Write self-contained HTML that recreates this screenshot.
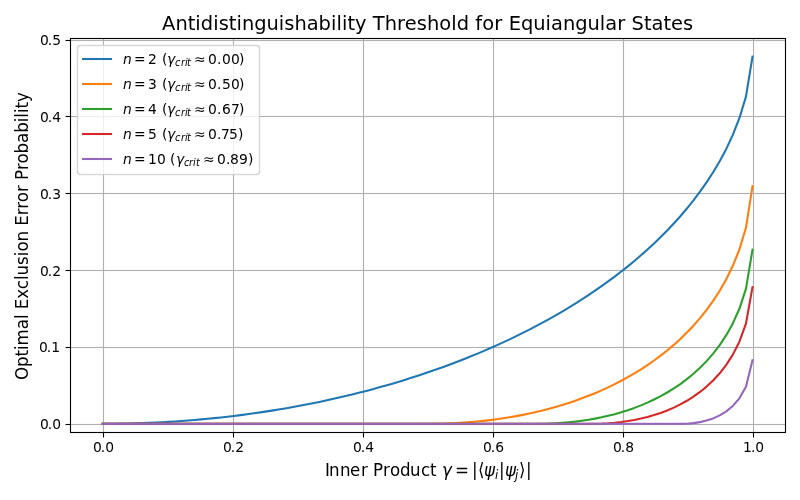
<!DOCTYPE html>
<html lang="en"><head><meta charset="utf-8">
<title>Antidistinguishability Threshold for Equiangular States</title>
<style>html,body{margin:0;padding:0;background:#fff;overflow:hidden}svg{display:block}.txt{will-change:transform}text{font-family:"DejaVu Sans","Liberation Sans",sans-serif;fill:#000;white-space:pre}.it{font-style:oblique}.t10{font-size:13.889px}.t12{font-size:16.667px}.t14{font-size:19.444px}.s7{font-size:9.722px;font-style:oblique}.s84{font-size:11.667px;font-style:oblique}.grid rect{fill:#b0b0b0}.tick line{stroke:#000;stroke-width:1.111}.curve{fill:none;stroke-width:2.083;stroke-linejoin:round;stroke-linecap:butt}</style></head><body>
<svg width="800" height="500" viewBox="0 0 800 500">
<rect x="0" y="0" width="800" height="500" fill="#fff"/>
<g class="grid">
<rect x="102.944" y="38.5" width="1.111" height="394.0"/>
<rect x="232.944" y="38.5" width="1.111" height="394.0"/>
<rect x="362.944" y="38.5" width="1.111" height="394.0"/>
<rect x="492.944" y="38.5" width="1.111" height="394.0"/>
<rect x="622.944" y="38.5" width="1.111" height="394.0"/>
<rect x="752.944" y="38.5" width="1.111" height="394.0"/>
<rect x="70.5" y="423.944" width="715.0" height="1.111"/>
<rect x="70.5" y="346.944" width="715.0" height="1.111"/>
<rect x="70.5" y="269.944" width="715.0" height="1.111"/>
<rect x="70.5" y="192.944" width="715.0" height="1.111"/>
<rect x="70.5" y="115.944" width="715.0" height="1.111"/>
<rect x="70.5" y="39.944" width="715.0" height="1.111"/>
</g>
<g class="tick">
<line x1="103.5" y1="432.0" x2="103.5" y2="437.5"/>
<line x1="233.5" y1="432.0" x2="233.5" y2="437.5"/>
<line x1="363.5" y1="432.0" x2="363.5" y2="437.5"/>
<line x1="493.5" y1="432.0" x2="493.5" y2="437.5"/>
<line x1="623.5" y1="432.0" x2="623.5" y2="437.5"/>
<line x1="753.5" y1="432.0" x2="753.5" y2="437.5"/>
<line x1="65.5" y1="424.5" x2="71.0" y2="424.5"/>
<line x1="65.5" y1="347.5" x2="71.0" y2="347.5"/>
<line x1="65.5" y1="270.5" x2="71.0" y2="270.5"/>
<line x1="65.5" y1="193.5" x2="71.0" y2="193.5"/>
<line x1="65.5" y1="116.5" x2="71.0" y2="116.5"/>
<line x1="65.5" y1="40.5" x2="71.0" y2="40.5"/>
</g>
<g>
<polyline class="curve" stroke="#1f77b4" points="101.72,423.84 102.77,423.84 109.33,423.82 115.89,423.76 122.45,423.66 129.02,423.52 135.58,423.35 142.14,423.13 148.71,422.88 155.27,422.58 161.83,422.25 168.40,421.87 174.96,421.46 181.52,421.01 188.09,420.51 194.65,419.98 201.21,419.41 207.78,418.79 214.34,418.14 220.90,417.44 227.46,416.71 234.03,415.93 240.59,415.11 247.15,414.25 253.72,413.34 260.28,412.39 266.84,411.40 273.41,410.37 279.97,409.30 286.53,408.18 293.10,407.01 299.66,405.80 306.22,404.55 312.78,403.25 319.35,401.90 325.91,400.51 332.47,399.07 339.04,397.58 345.60,396.04 352.16,394.46 358.73,392.82 365.29,391.14 371.85,389.40 378.42,387.61 384.98,385.77 391.54,383.88 398.11,381.93 404.67,379.92 411.23,377.86 417.79,375.74 424.36,373.57 430.92,371.33 437.48,369.03 444.05,366.67 450.61,364.25 457.17,361.76 463.74,359.21 470.30,356.59 476.86,353.90 483.43,351.13 489.99,348.30 496.55,345.39 503.11,342.40 509.68,339.33 516.24,336.18 522.80,332.94 529.37,329.61 535.93,326.20 542.49,322.69 549.06,319.08 555.62,315.37 562.18,311.55 568.75,307.63 575.31,303.59 581.87,299.42 588.44,295.14 595.00,290.71 601.56,286.15 608.12,281.44 614.69,276.57 621.25,271.54 627.81,266.33 634.38,260.93 640.94,255.32 647.50,249.49 654.07,243.42 660.63,237.09 667.19,230.47 673.76,223.53 680.32,216.24 686.88,208.54 693.44,200.38 700.01,191.68 706.57,182.35 713.13,172.26 719.70,161.20 726.26,148.90 732.82,134.87 739.39,118.19 745.95,96.59 752.51,56.69 752.68,55.66"/>
<rect x="101.72" y="422.794" width="322.28" height="2.083" fill="#ff7f0e"/>
<polyline class="curve" stroke="#ff7f0e" points="424.00,423.84 424.36,423.84 430.92,423.83 437.48,423.75 444.05,423.60 450.61,423.36 457.17,423.04 463.74,422.64 470.30,422.15 476.86,421.57 483.43,420.90 489.99,420.14 496.55,419.29 503.11,418.34 509.68,417.30 516.24,416.15 522.80,414.89 529.37,413.54 535.93,412.07 542.49,410.48 549.06,408.78 555.62,406.96 562.18,405.01 568.75,402.93 575.31,400.71 581.87,398.35 588.44,395.84 595.00,393.17 601.56,390.34 608.12,387.34 614.69,384.16 621.25,380.78 627.81,377.20 634.38,373.40 640.94,369.36 647.50,365.08 654.07,360.51 660.63,355.65 667.19,350.47 673.76,344.92 680.32,338.97 686.88,332.57 693.44,325.66 700.01,318.14 706.57,309.92 713.13,300.85 719.70,290.73 726.26,279.22 732.82,265.82 739.39,249.51 745.95,227.81 752.51,186.15 752.67,185.12"/>
<rect x="101.72" y="422.794" width="433.28" height="2.083" fill="#2ca02c"/>
<polyline class="curve" stroke="#2ca02c" points="535.00,423.84 535.93,423.84 542.49,423.78 549.06,423.61 555.62,423.31 562.18,422.89 568.75,422.33 575.31,421.63 581.87,420.78 588.44,419.79 595.00,418.63 601.56,417.32 608.12,415.82 614.69,414.15 621.25,412.27 627.81,410.20 634.38,407.90 640.94,405.37 647.50,402.59 654.07,399.53 660.63,396.18 667.19,392.50 673.76,388.47 680.32,384.04 686.88,379.16 693.44,373.77 700.01,367.79 706.57,361.12 713.13,353.61 719.70,345.06 726.26,335.16 732.82,323.40 739.39,308.80 745.95,288.93 752.51,249.61 752.68,248.58"/>
<rect x="101.72" y="422.794" width="486.28" height="2.083" fill="#d62728"/>
<polyline class="curve" stroke="#d62728" points="588.00,423.84 588.44,423.84 595.00,423.80 601.56,423.61 608.12,423.25 614.69,422.71 621.25,421.99 627.81,421.06 634.38,419.92 640.94,418.55 647.50,416.94 654.07,415.07 660.63,412.91 667.19,410.43 673.76,407.61 680.32,404.41 686.88,400.77 693.44,396.65 700.01,391.96 706.57,386.60 713.13,380.44 719.70,373.29 726.26,364.84 732.82,354.61 739.39,341.66 745.95,323.68 752.51,287.12 752.70,286.10"/>
<rect x="101.72" y="422.794" width="578.28" height="2.083" fill="#9467bd"/>
<polyline class="curve" stroke="#9467bd" points="680.00,423.84 680.32,423.84 686.88,423.68 693.44,423.14 700.01,422.13 706.57,420.59 713.13,418.40 719.70,415.41 726.26,411.39 732.82,405.94 739.39,398.31 745.95,386.68 752.51,360.25 752.76,359.23"/>
</g>
<rect x="70.5" y="38.5" width="715.0" height="394.0" fill="none" stroke="#000" stroke-width="1.111" stroke-linejoin="miter"/>
<g class="txt">
<g class="t10">
<text x="93 100.75 105.125" y="452">0.0</text>
<text x="223 230.75 235.125" y="452">0.2</text>
<text x="353 360.75 365.125" y="452">0.4</text>
<text x="483 490.75 495.125" y="452">0.6</text>
<text x="613 620.75 625.125" y="452">0.8</text>
<text x="743 750.875 755.25" y="452">1.0</text>
</g>
<g class="t10">
<text x="40 47.75 52.125" y="429">0.0</text>
<text x="39 46.75 51.125" y="352">0.1</text>
<text x="40 47.75 52.125" y="276">0.2</text>
<text x="40 47.75 52.125" y="199">0.3</text>
<text x="40 47.75 52.125" y="122">0.4</text>
<text x="40 47.75 52.125" y="45">0.5</text>
</g>
<text class="t14" x="162 175.375 187.625 195.25 200.75 213.125 218.625 228.75 236.375 241.875 254.125 266.5 278.75 284.25 294.375 306.625 318.5 330.875 336.375 341.875 347.375 355 366.5 372.75 384.75 397 404.75 416.75 426.875 439.125 451.125 456.625 469 475.25 482.25 494.25 502.375 508.625 520.875 533.25 545.5 551 562.875 575.125 587.5 599.75 605.25 617.125 625.25 631.5 643.875 651.5 663.375 671 683" y="30">Antidistinguishability Threshold for Equiangular States</text>
<text class="t12" transform="translate(28 380) rotate(-90) scale(1 1.07)" x="0 13 23.5 30 34.625 50.875 61 65.625 70.875 81.25 90.875 100 104.625 115.125 123.875 128.5 138.625 149.125 154.375 164.75 171.375 177.875 188 194.875 200.125 210 216.5 226.625 237.125 247.25 257.75 262.375 267 271.625 278.125" y="0">Optimal Exclusion Error Probability</text>
<text class="t12" transform="matrix(1 0 0 1.09 0 -42.84)"><tspan x="325 329 340 350 361 368 373 383 390 400 410 421 430 437" y="476">Inner Product </tspan><tspan class="it" x="442" y="476">γ</tspan><tspan x="455 472 478" y="476">=|⟨</tspan><tspan class="it" x="484" y="476">ψ</tspan><tspan class="s84" x="495" y="479">i</tspan><tspan x="499" y="476">|</tspan><tspan class="it" x="505" y="476">ψ</tspan><tspan class="s84" x="515" y="479">j</tspan><tspan x="519 526" y="476">⟩|</tspan></text>
</g>
<path d="M80.278 45.5 H256.722 Q259.5 45.5 259.5 48.278 V171.722 Q259.5 174.5 256.722 174.5 H80.278 Q77.5 174.5 77.5 171.722 V48.278 Q77.5 45.5 80.278 45.5Z" fill="#fff" fill-opacity="0.8"/>
<g opacity="0.8" fill="#ccc" stroke="#ccc" stroke-width="1.389">
<rect stroke="none" x="79.278" y="44.806" width="178.444" height="1.389"/>
<rect stroke="none" x="79.278" y="173.806" width="178.444" height="1.389"/>
<rect stroke="none" x="76.806" y="47.278" width="1.389" height="125.444"/>
<rect stroke="none" x="258.806" y="47.278" width="1.389" height="125.444"/>
<path fill="none" d="M77.5 48.278 Q77.5 45.5 80.278 45.5"/>
<path fill="none" d="M256.722 45.5 Q259.5 45.5 259.5 48.278"/>
<path fill="none" d="M259.5 171.722 Q259.5 174.5 256.722 174.5"/>
<path fill="none" d="M80.278 174.5 Q77.5 174.5 77.5 171.722"/>
</g>
<rect x="81.96" y="57.958" width="30.08" height="2.083" fill="#1f77b4"/>
<rect x="81.96" y="82.958" width="30.08" height="2.083" fill="#ff7f0e"/>
<rect x="81.96" y="107.958" width="30.08" height="2.083" fill="#2ca02c"/>
<rect x="81.96" y="132.958" width="30.08" height="2.083" fill="#d62728"/>
<rect x="81.96" y="157.958" width="30.08" height="2.083" fill="#9467bd"/>
<g class="txt">
<text class="t10"><tspan class="it" x="123" y="64">n</tspan><tspan x="134 148 157 162" y="64">=2 (</tspan><tspan class="it" x="167" y="64">γ</tspan><tspan class="s7" x="175 181 185 187" y="66">crit</tspan><tspan x="194 208 217 222 231 239" y="64">≈0.00)</tspan></text>
<text class="t10"><tspan class="it" x="123" y="89">n</tspan><tspan x="134 148 157 162" y="89">=3 (</tspan><tspan class="it" x="167" y="89">γ</tspan><tspan class="s7" x="175 181 185 187" y="91">crit</tspan><tspan x="194 208 217 222 231 239" y="89">≈0.50)</tspan></text>
<text class="t10"><tspan class="it" x="123" y="114">n</tspan><tspan x="134 148 157 162" y="114">=4 (</tspan><tspan class="it" x="167" y="114">γ</tspan><tspan class="s7" x="175 181 185 187" y="116">crit</tspan><tspan x="194 208 217 222 231 239" y="114">≈0.67)</tspan></text>
<text class="t10"><tspan class="it" x="123" y="139">n</tspan><tspan x="134 148 157 162" y="139">=5 (</tspan><tspan class="it" x="167" y="139">γ</tspan><tspan class="s7" x="175 181 185 187" y="141">crit</tspan><tspan x="194 208 217 221 229 238" y="139">≈0.75)</tspan></text>
<text class="t10"><tspan class="it" x="123" y="164">n</tspan><tspan x="134 148 157 166 170" y="164">=10 (</tspan><tspan class="it" x="176" y="164">γ</tspan><tspan class="s7" x="184 189 193 196" y="166">crit</tspan><tspan x="203 217 226 230 239 248" y="164">≈0.89)</tspan></text>
</g>
</svg></body></html>
